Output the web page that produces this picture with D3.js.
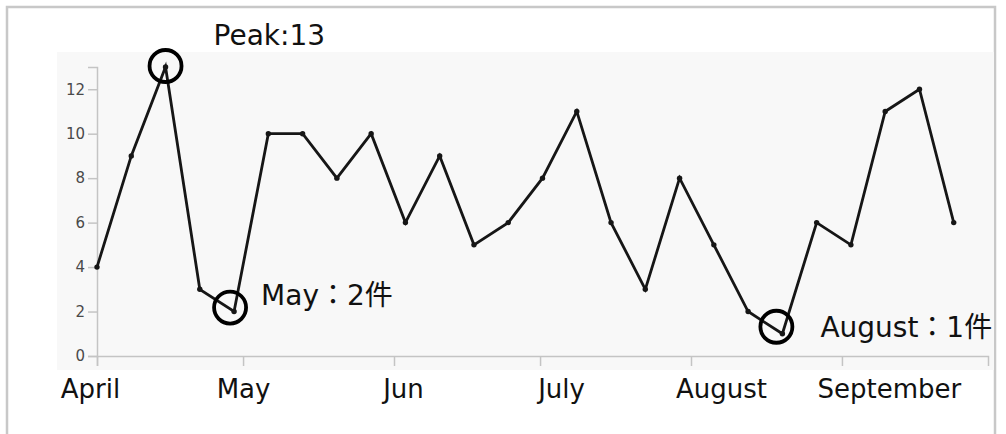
<!DOCTYPE html>
<html>
<head>
<meta charset="utf-8">
<script src="https://cdn.jsdelivr.net/npm/d3@7"></script>
<style>
  html, body { margin: 0; padding: 0; background: #fff; }
  svg { display: block; }
</style>
</head>
<body>
<svg id="chart" width="1006" height="434"></svg>
<script>
// Weekly counts, April to September
const weeks = [0, 1, 2, 3, 4, 5, 6, 7, 8, 9, 10, 11, 12, 13, 14, 15, 16, 17, 18, 19, 20, 21, 22, 23, 24, 25];
const counts = [4, 9, 13, 3, 2, 10, 10, 8, 10, 6, 9, 5, 6, 8, 11, 6, 3, 8, 5, 2, 1, 6, 5, 11, 12, 6];

// Month axis
const monthStarts = ["2019-04-01", "2019-05-01", "2019-06-01", "2019-07-01", "2019-08-01", "2019-09-01"];
const monthLabels = ["April", "May", "Jun", "July", "August", "September"];
const periodStart = "2019-04-01";
const periodEnd = "2019-10-01";
const weekSpan = 26;

// Y ticks
const yTicks = [0, 2, 4, 6, 8, 10, 12];
const yMax = 13;

// Highlighted weeks (index into counts)
const peakWeek = 2;
const mayLowWeek = 4;
const augLowWeek = 20;

const svg = d3.select("#chart");
const parse = d3.utcParse("%Y-%m-%d");

const plot = { left: 97, right: 988, top: 67, bottom: 356 };

const x = d3.scaleLinear().domain([0, weekSpan]).range([plot.left, plot.right]);
const xTime = d3.scaleUtc().domain([parse(periodStart), parse(periodEnd)]).range([plot.left, plot.right]);
const y = d3.scaleLinear().domain([0, yMax]).range([plot.bottom, plot.top]);

// Outer frame
svg.append("rect")
  .attr("x", 7).attr("y", 7)
  .attr("width", 988).attr("height", 440)
  .attr("fill", "#fff")
  .attr("stroke", "#c8c8c8")
  .attr("stroke-width", 2.5);

// Plot background
svg.append("rect")
  .attr("x", 57).attr("y", 52)
  .attr("width", 937).attr("height", 318)
  .attr("fill", "#f8f8f8");

// Y axis
const yAxis = svg.append("g")
  .attr("transform", `translate(${plot.left},0)`)
  .call(d3.axisLeft(y).tickValues(yTicks).tickSize(9).tickSizeOuter(9).tickPadding(3));
yAxis.selectAll("path, line").attr("stroke", "#c4c4c4").attr("stroke-width", 1.5);
yAxis.selectAll("text")
  .attr("fill", "#4a4a4a")
  .style("font-family", "'DejaVu Sans', sans-serif")
  .style("font-size", "15px");

// X axis (months)
const labelShift = [-7, 0, 9, 21, 30, 47];
const xAxis = svg.append("g")
  .attr("transform", `translate(0,${plot.bottom})`)
  .call(d3.axisBottom(xTime)
    .tickValues(monthStarts.map(parse))
    .tickFormat((d, i) => monthLabels[i])
    .tickSize(10).tickSizeOuter(10).tickPadding(14));
xAxis.selectAll("path, line").attr("stroke", "#c4c4c4").attr("stroke-width", 1.5);
xAxis.selectAll("text")
  .attr("fill", "#111")
  .attr("dx", (d, i) => labelShift[i])
  .attr("dy", "0.71em")
  .style("font-family", "'DejaVu Sans', sans-serif")
  .style("font-size", "26px");

// Series line
const line = d3.line()
  .x((d, i) => x(weeks[i]))
  .y(d => y(d));

svg.append("path")
  .datum(counts)
  .attr("fill", "none")
  .attr("stroke", "#161616")
  .attr("stroke-width", 2.8)
  .attr("stroke-linejoin", "miter")
  .attr("d", line);

svg.append("g").selectAll("circle")
  .data(counts)
  .join("circle")
  .attr("cx", (d, i) => x(weeks[i]))
  .attr("cy", d => y(d))
  .attr("r", 2.7)
  .attr("fill", "#161616");

// Callouts
const callouts = [
  { week: peakWeek, text: `Peak:${counts[peakWeek]}`, ring: [0, -1], label: [48, -22], size: 28 },
  { week: mayLowWeek, text: `May：${counts[mayLowWeek]}件`, ring: [-4, -4], label: [27, -7], size: 28 },
  { week: augLowWeek, text: `August：${counts[augLowWeek]}件`, ring: [-6, -7], label: [38, 3], size: 28 }
];

const cg = svg.append("g");
callouts.forEach(c => {
  const px = x(weeks[c.week]);
  const py = y(counts[c.week]);
  cg.append("circle")
    .attr("cx", px + c.ring[0])
    .attr("cy", py + c.ring[1])
    .attr("r", 16)
    .attr("fill", "none")
    .attr("stroke", "#000")
    .attr("stroke-width", 3.8);
  cg.append("text")
    .attr("x", px + c.label[0])
    .attr("y", py + c.label[1])
    .attr("fill", "#111")
    .style("font-family", "'DejaVu Sans', 'Noto Sans CJK JP', sans-serif")
    .style("font-size", c.size + "px")
    .text(c.text);
});
</script>
</body>
</html>
